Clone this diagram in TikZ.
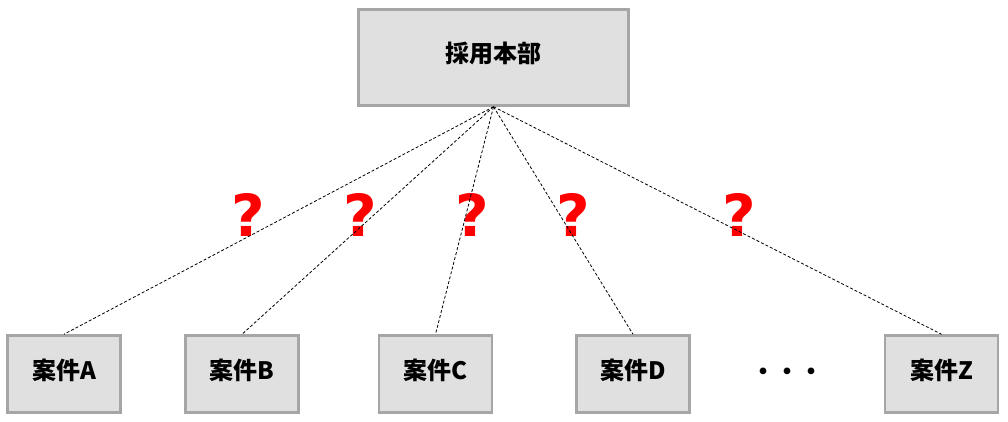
\documentclass[tikz,border=0pt]{standalone}
\usepackage{fontspec}
\usepackage{xcolor}
\setmainfont{Noto Sans CJK JP}
\newfontfamily\qfont{DejaVu Sans}
\usetikzlibrary{positioning}

\definecolor{boxline}{HTML}{A6A6A6}
\definecolor{boxfill}{HTML}{E0E0E0}

\begin{document}
\begin{tikzpicture}[
  x=1pt, y=-1pt,
  box/.style={draw=boxline, line width=2.5pt, fill=boxfill, inner sep=0pt, text height=20pt, text depth=10pt, font=\bfseries\fontsize{24}{28}\selectfont},
  hqbox/.style={box, minimum width=270pt, minimum height=96pt},
  casebox/.style={box, minimum width=113pt, minimum height=77pt},
  link/.style={dash pattern=on 3pt off 2pt, line width=0.8pt},
  qmark/.style={text=red, font=\qfont\bfseries\fontsize{58}{60}\selectfont, inner sep=0pt}
]
\useasboundingbox (0,0) rectangle (1008,422);

\node[hqbox] (hq) at (493.5,57.5) {採用本部};

\node[casebox] (caseA) at (64,374) {案件A};
\node[casebox] (caseB) at (242,374) {案件B};
\node[casebox] (caseC) at (435.5,374) {案件C};
\node[casebox] (caseD) at (633,374) {案件D};
\node[casebox] (caseZ) at (941.5,374) {案件Z};
\node[font=\bfseries\fontsize{24}{26}\selectfont, inner sep=0pt] (dots) at (787,374) {・・・};

% question marks under the links
\node[qmark] (qA) at (248,215) {?};
\node[qmark] (qB) at (360,215) {?};
\node[qmark] (qC) at (472,215) {?};
\node[qmark] (qD) at (573,215) {?};
\node[qmark] (qZ) at (739,215) {?};

\foreach \c in {caseA,caseB,caseC,caseD,caseZ}
  \draw[link] (hq.south) -- (\c.north);
\end{tikzpicture}
\end{document}
